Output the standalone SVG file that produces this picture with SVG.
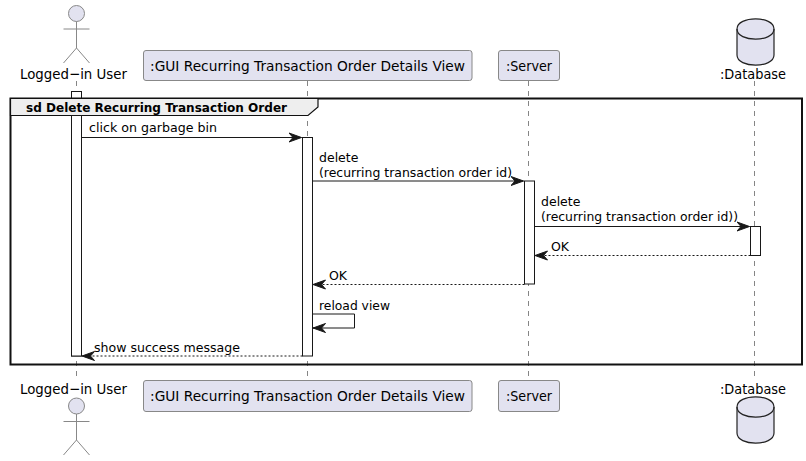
<svg xmlns="http://www.w3.org/2000/svg" width="806" height="461" viewBox="0 0 806 461">
<defs>
<marker id="ah" markerUnits="userSpaceOnUse" markerWidth="15" markerHeight="12" refX="13" refY="6" orient="auto"><path d="M0.500 1.500 L13 6 L0.500 10.500 L4.500 6 Z" fill="#181818" stroke="#181818" stroke-width="1"/></marker>
</defs>
<style>
text{font-family:"DejaVu Sans","Liberation Sans",sans-serif;fill:#000}
.p{font-size:14.5px}
.m{font-size:12.5px}
.t{font-size:12.5px;font-weight:bold}
.box{fill:#E2E2F0;stroke:#888;stroke-width:1}
.actor{fill:none;stroke:#888;stroke-width:1}
.head{fill:#E2E2F0;stroke:#888;stroke-width:1}
.db{fill:#E2E2F0;stroke:#222;stroke-width:1.2}
.life{stroke:#666;stroke-width:.8;stroke-dasharray:5 5;fill:none}
.act{fill:#fff;stroke:#181818;stroke-width:1}
.msg{stroke:#181818;stroke-width:1;fill:none;marker-end:url(#ah)}
.ret{stroke-dasharray:2 2}
</style>
<rect width="806" height="461" fill="#fff"/>
<g id="lifelines">
<line class="life" x1="76.5" y1="81" x2="76.5" y2="380"/>
<line class="life" x1="307.5" y1="81" x2="307.5" y2="380"/>
<line class="life" x1="528.5" y1="81" x2="528.5" y2="380"/>
<line class="life" x1="754.5" y1="81" x2="754.5" y2="380"/>
</g>
<g id="activation-user-top"><rect class="act" x="71.5" y="91.5" width="10" height="264.5"/></g>
<g id="frame">
<rect x="10.5" y="98.5" width="791.5" height="266" fill="none" stroke="#111" stroke-width="2"/>
<path d="M10.5 98.5 H318 V107 L308 115.5 H10.5 Z" fill="#EEE" stroke="#111" stroke-width="1.200"/>
<text class="t" x="26" y="112" textLength="261" lengthAdjust="spacingAndGlyphs">sd Delete Recurring Transaction Order</text>
</g>
<g id="activations">
<rect class="act" x="71.5" y="115.5" width="10" height="240.5"/>
<rect class="act" x="302.5" y="137.5" width="10" height="218.5"/>
<rect class="act" x="524.5" y="181" width="10" height="103"/>
<rect class="act" x="750.5" y="226.5" width="10" height="29"/>
</g>
<g id="connectors">
<line class="msg" x1="81.5" y1="137.5" x2="301.5" y2="137.5"/>
<line class="msg" x1="312.5" y1="181" x2="523.5" y2="181"/>
<line class="msg" x1="534.5" y1="226.5" x2="749.5" y2="226.5"/>
<line class="msg ret" x1="750.5" y1="255.5" x2="535" y2="255.5"/>
<line class="msg ret" x1="524.5" y1="284.5" x2="313" y2="284.5"/>
<path class="msg" d="M312.5 314 H354.5 V328 H313"/>
<line class="msg ret" x1="302.5" y1="356" x2="82" y2="356"/>
</g>
<g id="labels">
<text class="m" x="89" y="132" textLength="128" lengthAdjust="spacingAndGlyphs">click on garbage bin</text>
<text class="m" x="319" y="162">delete</text>
<text class="m" x="319" y="177" textLength="193" lengthAdjust="spacingAndGlyphs">(recurring transaction order id)</text>
<text class="m" x="541" y="206">delete</text>
<text class="m" x="541" y="221" textLength="197" lengthAdjust="spacingAndGlyphs">(recurring transaction order id))</text>
<text class="m" x="551" y="251">OK</text>
<text class="m" x="329" y="280">OK</text>
<text class="m" x="319" y="310" textLength="71" lengthAdjust="spacingAndGlyphs">reload view</text>
<text class="m" x="94" y="352" textLength="146" lengthAdjust="spacingAndGlyphs">show success message</text>
</g>
<g id="actor-user-top">
<circle class="head" cx="76.5" cy="13.5" r="8"/>
<path class="actor" d="M76.5 21.500 V48 M63.500 29 H89.500 M63.500 63 L76.500 48 L89.500 63"/>
<text class="p" x="20" y="79" textLength="107" lengthAdjust="spacingAndGlyphs">Logged−in User</text>
</g>
<g id="gui-top">
<rect class="box" x="143.5" y="50.5" width="328.5" height="30" rx="2.5"/>
<text class="p" x="150" y="70.5" textLength="315" lengthAdjust="spacingAndGlyphs">:GUI Recurring Transaction Order Details View</text>
</g>
<g id="server-top">
<rect class="box" x="498.5" y="50.5" width="61" height="30" rx="2.5"/>
<text class="p" x="506" y="70.5" textLength="46" lengthAdjust="spacingAndGlyphs">:Server</text>
</g>
<g id="database-top">
<path class="db" d="M737 29 C737 15.500 774 15.500 774 29 V55 C774 68.500 737 68.500 737 55 Z"/>
<path class="db" style="fill:none" d="M737 29 C737 42.500 774 42.500 774 29"/>
<text class="p" x="720" y="79" textLength="66" lengthAdjust="spacingAndGlyphs">:Database</text>
</g>
<g id="actor-user-bottom">
<text class="p" x="20" y="394" textLength="107" lengthAdjust="spacingAndGlyphs">Logged−in User</text>
<circle class="head" cx="76.5" cy="406" r="8"/>
<path class="actor" d="M76.5 414 V440 M63.500 421.500 H89.500 M63.500 455 L76.500 440 L89.500 455"/>
</g>
<g id="gui-bottom">
<rect class="box" x="143.5" y="380.5" width="328.500" height="31" rx="2.5"/>
<text class="p" x="150" y="401" textLength="315" lengthAdjust="spacingAndGlyphs">:GUI Recurring Transaction Order Details View</text>
</g>
<g id="server-bottom">
<rect class="box" x="498.5" y="380.5" width="61" height="31" rx="2.5"/>
<text class="p" x="506" y="401" textLength="46" lengthAdjust="spacingAndGlyphs">:Server</text>
</g>
<g id="database-bottom">
<text class="p" x="720" y="394" textLength="66" lengthAdjust="spacingAndGlyphs">:Database</text>
<path class="db" d="M737 407 C737 393.500 774 393.500 774 407 V433 C774 446.500 737 446.500 737 433 Z"/>
<path class="db" style="fill:none" d="M737 407 C737 420.500 774 420.500 774 407"/>
</g>
</svg>
